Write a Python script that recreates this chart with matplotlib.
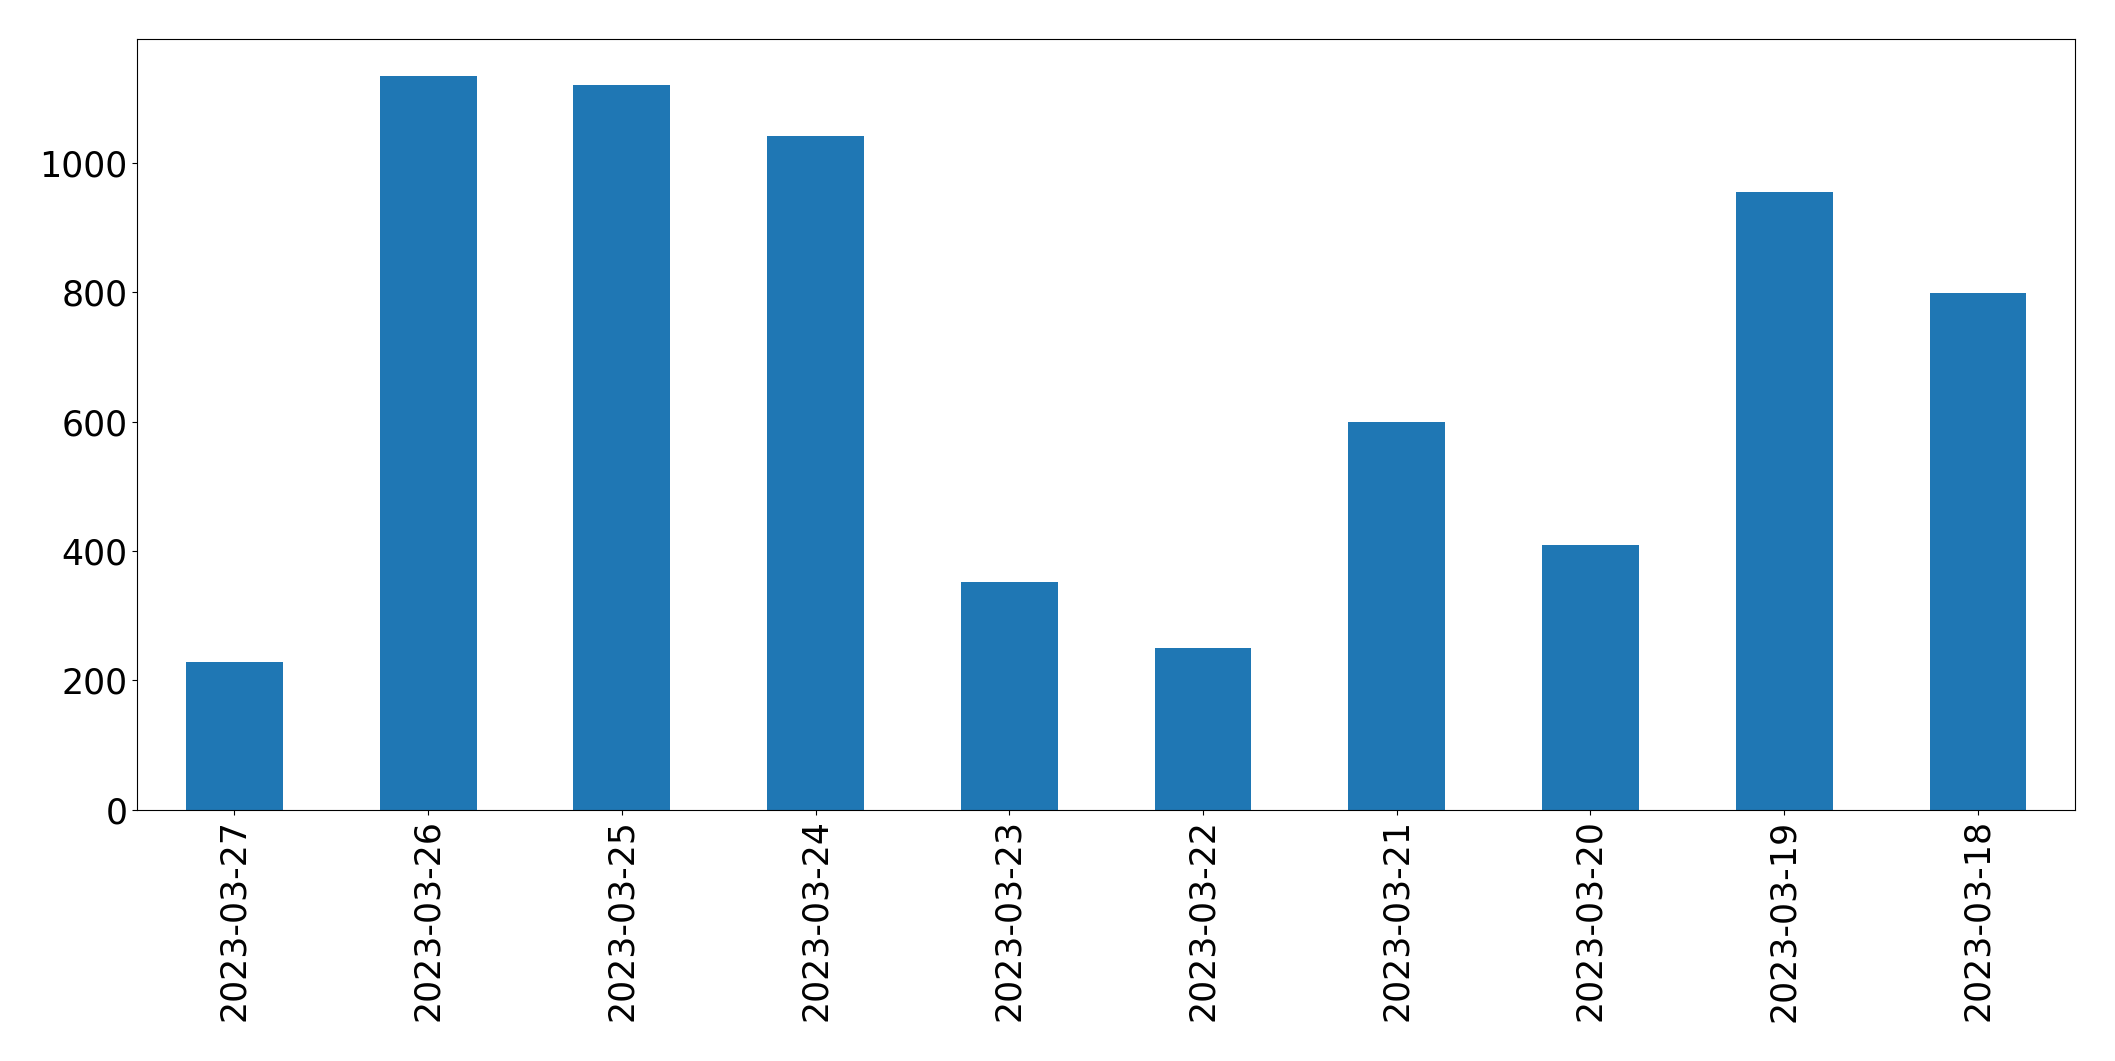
import matplotlib
matplotlib.use("Agg")
import matplotlib.pyplot as plt
import numpy as np

# Daily counts, newest first
dates = ["2023-03-27", "2023-03-26", "2023-03-25", "2023-03-24", "2023-03-23",
         "2023-03-22", "2023-03-21", "2023-03-20", "2023-03-19", "2023-03-18"]
counts = [228, 1135, 1121, 1042, 352, 250, 599, 410, 956, 799]

fig = plt.figure(figsize=(21.15, 10.61), dpi=100)
ax = fig.add_axes([0.065, 0.237, 0.916, 0.726])

x = np.arange(len(dates))
ax.bar(x, counts, width=0.5, color="#1f77b4")

ax.set_xlim(-0.5, len(dates) - 0.5)
ax.set_xticks(x)
ax.set_xticklabels(dates, rotation=90)
ax.tick_params(axis="both", labelsize=25)

fig.savefig("out.png", dpi=100)
